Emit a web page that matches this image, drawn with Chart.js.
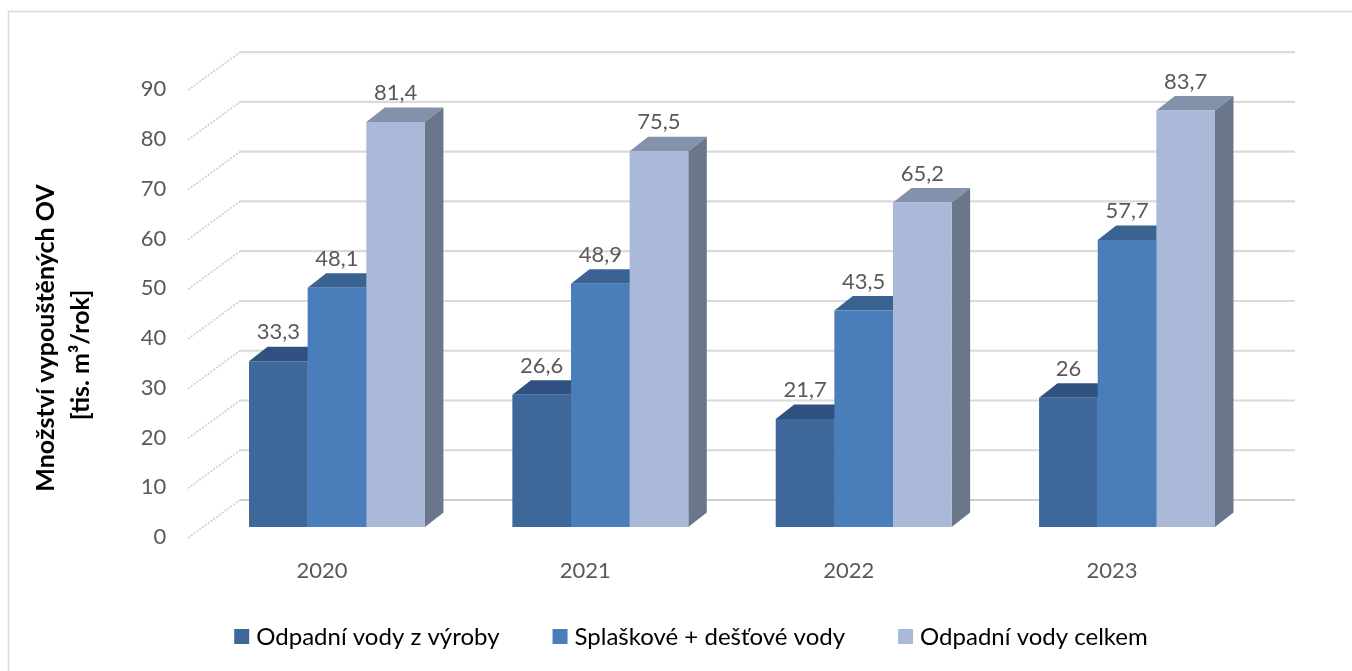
<!DOCTYPE html>
<html>
<head>
<meta charset="utf-8">
<script src="https://cdn.jsdelivr.net/npm/chart.js@4.4.1/dist/chart.umd.min.js"></script>
<style>
  html, body { margin: 0; padding: 0; background: #fff; }
  #wrap { width: 1352px; height: 671px; }
</style>
</head>
<body>
<div id="wrap"><canvas id="vodyChart" width="1352" height="671"></canvas></div>
<script>
// chart data
const years = ['2020', '2021', '2022', '2023'];
const vyroba = [33.3, 26.6, 21.7, 26];
const splaskove = [48.1, 48.9, 43.5, 57.7];
const celkem = [81.4, 75.5, 65.2, 83.7];
const seriesNames = ['Odpadní vody z výroby', 'Splaškové + dešťové vody', 'Odpadní vody celkem'];
const yTitle = ['Množství vypouštěných OV', '[tis. m³/rok]'];

// face colours: front, top, side
const faces = [
    { front: '#3E6899', top: '#2F5280', side: '#2F5280' },
    { front: '#4A7EBB', top: '#3A6392', side: '#3A6392' },
    { front: '#A9B9D7', top: '#8391AA', side: '#6A778A' }
];

const FONT = 'Lato, "Open Sans", sans-serif';
const DX = 18.5, DY = -14.5;      // bar depth
const BACK_DY = -27;              // back wall offset from bar plane
const FRONT_DY = 11;              // floor front edge offset

const fmt = (v) => String(v).replace('.', ',');

const fake3d = {
    id: 'fake3d',
    beforeDraw(chart) {
        const ctx = chart.ctx;
        ctx.save();
        ctx.fillStyle = '#fff';
        ctx.fillRect(0, 0, chart.width, chart.height);
        ctx.strokeStyle = '#D9D9D9';
        ctx.lineWidth = 1.5;
        ctx.strokeRect(8.5, 11.5, 1500, 800);
        ctx.restore();
    },
    beforeDatasetsDraw(chart) {
        const ctx = chart.ctx;
        const y = chart.scales.y;
        const area = chart.chartArea;
        const wallL = area.left + 34.7, wallR = area.right + 36.3;
        const floorL = area.left - 17.3;
        ctx.save();
        y.ticks.forEach(t => {
            const py = y.getPixelForValue(t.value);
            // back wall gridline
            ctx.strokeStyle = t.value === 0 ? '#CFCFCF' : '#DADADA';
            ctx.lineWidth = 2.2;
            ctx.setLineDash([]);
            ctx.beginPath();
            ctx.moveTo(wallL, py + BACK_DY);
            ctx.lineTo(wallR, py + BACK_DY);
            ctx.stroke();
            // side wall line
            ctx.strokeStyle = '#CDCDCD';
            ctx.lineWidth = 1.6;
            ctx.setLineDash([2, 1.5]);
            ctx.beginPath();
            ctx.moveTo(floorL, py + FRONT_DY);
            ctx.lineTo(wallL, py + BACK_DY);
            ctx.stroke();
        });
        ctx.setLineDash([]);
        // tops and sides of the bars
        chart.data.datasets.forEach((ds, i) => {
            const meta = chart.getDatasetMeta(i);
            meta.data.forEach(bar => {
                const p = bar.getProps(['x', 'y', 'base', 'width'], true);
                const l = p.x - p.width / 2, r = p.x + p.width / 2;
                ctx.fillStyle = faces[i].top;
                ctx.beginPath();
                ctx.moveTo(l, p.y);
                ctx.lineTo(r, p.y);
                ctx.lineTo(r + DX, p.y + DY);
                ctx.lineTo(l + DX, p.y + DY);
                ctx.closePath();
                ctx.fill();
                ctx.fillStyle = faces[i].side;
                ctx.beginPath();
                ctx.moveTo(r, p.y);
                ctx.lineTo(r + DX, p.y + DY);
                ctx.lineTo(r + DX, p.base + DY);
                ctx.lineTo(r, p.base);
                ctx.closePath();
                ctx.fill();
            });
        });
        ctx.restore();
    },
    afterDatasetsDraw(chart) {
        const ctx = chart.ctx;
        ctx.save();
        ctx.fillStyle = '#595959';
        ctx.font = '22px ' + FONT;
        ctx.textAlign = 'center';
        ctx.textBaseline = 'alphabetic';
        chart.data.datasets.forEach((ds, i) => {
            chart.getDatasetMeta(i).data.forEach((bar, j) => {
                const p = bar.getProps(['x', 'y'], true);
                ctx.fillText(fmt(ds.data[j]), p.x, p.y - 22);
            });
        });
        ctx.restore();
    },
    afterDraw(chart) {
        const ctx = chart.ctx;
        ctx.save();
        // y axis title
        ctx.fillStyle = '#000';
        ctx.font = 'bold 25px ' + FONT;
        ctx.textAlign = 'center';
        ctx.textBaseline = 'middle';
        ctx.rotate(-Math.PI / 2);
        ctx.fillText(yTitle[0], -338, 46);
        ctx.fillText(yTitle[1], -355, 81);
        ctx.restore();

        // legend
        ctx.save();
        ctx.font = '24px ' + FONT;
        ctx.textBaseline = 'alphabetic';
        const box = 15, gapText = 7, gapItem = 53;
        const widths = chart.data.datasets.map(ds => ctx.measureText(ds.label).width);
        let total = widths.reduce((a, w) => a + box + gapText + w, 0) + gapItem * (widths.length - 1);
        let x = 691 - total / 2;
        chart.data.datasets.forEach((ds, i) => {
            ctx.fillStyle = faces[i].front;
            ctx.fillRect(x, 629, box, box);
            ctx.fillStyle = '#000';
            ctx.fillText(ds.label, x + box + gapText, 645);
            x += box + gapText + widths[i] + gapItem;
        });
        ctx.restore();
    }
};

const ctx = document.getElementById('vodyChart').getContext('2d');
const chart = new Chart(ctx, {
    type: 'bar',
    data: {
        labels: years,
        datasets: [vyroba, splaskove, celkem].map((vals, i) => ({
            label: seriesNames[i],
            data: vals,
            backgroundColor: faces[i].front,
            borderWidth: 0,
            barPercentage: 1,
            categoryPercentage: 0.668
        }))
    },
    options: {
        responsive: false,
        animation: false,
        devicePixelRatio: 1,
        layout: { padding: { top: 79.2, right: 93.3, left: 0, bottom: 0 } },
        plugins: {
            legend: { display: false },
            tooltip: { enabled: false }
        },
        scales: {
            x: {
                grid: { display: false, drawTicks: false },
                border: { display: false },
                ticks: { color: '#595959', font: { family: FONT, size: 22 }, padding: 31, labelOffset: -15 },
                afterFit: (s) => { s.height = 144; }
            },
            y: {
                min: 0,
                max: 90,
                grid: { display: false, drawTicks: false },
                border: { display: false },
                ticks: { stepSize: 10, color: '#595959', font: { family: FONT, size: 22 }, padding: 39, labelOffset: 10 },
                afterFit: (s) => { s.width = 205.3; }
            }
        }
    },
    plugins: [fake3d]
});
</script>
</body>
</html>
